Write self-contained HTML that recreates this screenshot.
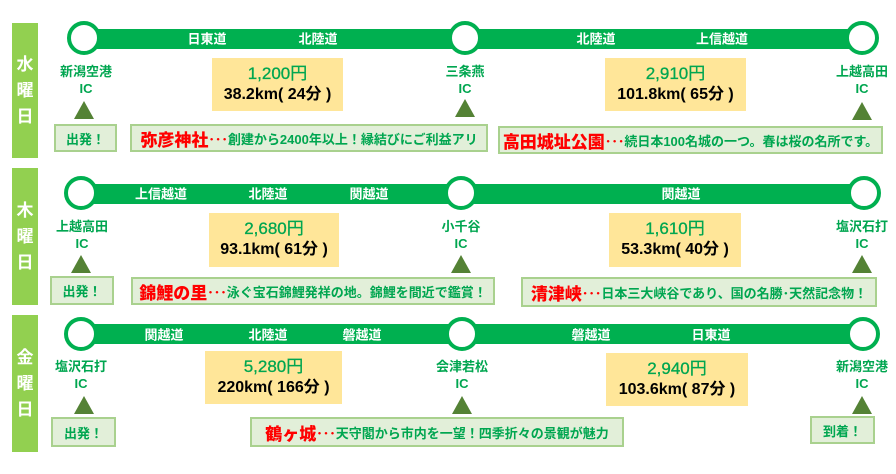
<!DOCTYPE html>
<html><head><meta charset="utf-8"><style>
*{margin:0;padding:0;box-sizing:border-box}
body{width:896px;height:474px;background:#fff;position:relative;overflow:hidden;font-family:"Liberation Sans","Noto Sans CJK JP",sans-serif;font-weight:bold}
.side{position:absolute;left:12px;width:26px;background:#92d050;color:#fff;font-size:17px;line-height:26px;text-align:center;display:flex;flex-direction:column;justify-content:center}
.bar{position:absolute;height:20px;background:#00b050}
.c{position:absolute;width:34px;height:34px;border:4px solid #00b050;border-radius:50%;background:#fff}
.rl{position:absolute;color:#fff;font-size:13px;transform:translate(-50%,-50%);white-space:nowrap}
.st{position:absolute;color:#00a650;font-size:13px;text-align:center;line-height:17px;transform:translateX(-50%);white-space:nowrap}
.pb{position:absolute;background:#ffe699;text-align:center}
.pb .p{color:#00a650;font-size:17px;font-weight:normal;line-height:20px;margin-top:6px;-webkit-text-stroke:0.3px #00a650}
.pb .k{color:#000;font-size:16px;line-height:22px;white-space:nowrap}
.tri{position:absolute;width:0;height:0;border-left:10px solid transparent;border-right:10px solid transparent;border-bottom:18px solid #548235;transform:translateX(-50%)}
.db{position:absolute;background:#e2efd9;border:2px solid #a9d18e;color:#00a650;font-size:13px;display:flex;align-items:center;justify-content:center;white-space:nowrap}
.db b{color:#ff0000;font-size:17px}
</style></head><body>

<!-- Row 1 -->
<div class="side" style="top:23px;height:135px">水<br>曜<br>日</div>
<div class="bar" style="left:84px;width:778px;top:29px"></div>
<div class="c" style="left:67px;top:21px"></div>
<div class="c" style="left:448px;top:21px"></div>
<div class="c" style="left:845px;top:21px"></div>
<div class="rl" style="left:207px;top:38px">日東道</div>
<div class="rl" style="left:318px;top:38px">北陸道</div>
<div class="rl" style="left:596px;top:38px">北陸道</div>
<div class="rl" style="left:722px;top:38px">上信越道</div>
<div class="st" style="left:86px;top:63px">新潟空港<br>IC</div>
<div class="st" style="left:465px;top:63px">三条燕<br>IC</div>
<div class="st" style="left:862px;top:63px">上越高田<br>IC</div>
<div class="pb" style="left:212px;top:58px;width:131px;height:53px"><div class="p">1,200円</div><div class="k">38.2km( 24分 )</div></div>
<div class="pb" style="left:605px;top:58px;width:141px;height:53px"><div class="p">2,910円</div><div class="k">101.8km( 65分 )</div></div>
<div class="tri" style="left:84px;top:101px"></div>
<div class="tri" style="left:465px;top:99px"></div>
<div class="tri" style="left:862px;top:102px"></div>
<div class="db" style="left:54px;top:124px;width:63px;height:28px">出発！</div>
<div class="db" style="left:130px;top:124px;width:358px;height:28px"><b>弥彦神社</b><span style="color:#ff0000">･･･</span>創建から2400年以上！縁結びにご利益アリ</div>
<div class="db" style="left:498px;top:126px;width:385px;height:28px"><b>高田城址公園</b><span style="color:#ff0000">･･･</span>続日本100名城の一つ。春は桜の名所です。</div>

<!-- Row 2 -->
<div class="side" style="top:168px;height:137px">木<br>曜<br>日</div>
<div class="bar" style="left:81px;width:783px;top:184px"></div>
<div class="c" style="left:64px;top:176px"></div>
<div class="c" style="left:444px;top:176px"></div>
<div class="c" style="left:847px;top:176px"></div>
<div class="rl" style="left:161px;top:193px">上信越道</div>
<div class="rl" style="left:268px;top:193px">北陸道</div>
<div class="rl" style="left:369px;top:193px">関越道</div>
<div class="rl" style="left:681px;top:193px">関越道</div>
<div class="st" style="left:82px;top:218px">上越高田<br>IC</div>
<div class="st" style="left:461px;top:218px">小千谷<br>IC</div>
<div class="st" style="left:862px;top:218px">塩沢石打<br>IC</div>
<div class="pb" style="left:209px;top:213px;width:130px;height:54px"><div class="p">2,680円</div><div class="k">93.1km( 61分 )</div></div>
<div class="pb" style="left:609px;top:213px;width:132px;height:54px"><div class="p">1,610円</div><div class="k">53.3km( 40分 )</div></div>
<div class="tri" style="left:81px;top:255px"></div>
<div class="tri" style="left:461px;top:255px"></div>
<div class="tri" style="left:862px;top:255px"></div>
<div class="db" style="left:50px;top:276px;width:64px;height:29px">出発！</div>
<div class="db" style="left:131px;top:277px;width:364px;height:28px"><b>錦鯉の里</b><span style="color:#ff0000">･･･</span>泳ぐ宝石錦鯉発祥の地。錦鯉を間近で鑑賞！</div>
<div class="db" style="left:521px;top:277px;width:356px;height:30px"><b>清津峡</b><span style="color:#ff0000">･･･</span>日本三大峡谷であり、国の名勝･天然記念物！</div>

<!-- Row 3 -->
<div class="side" style="top:315px;height:137px">金<br>曜<br>日</div>
<div class="bar" style="left:81px;width:782px;top:324px"></div>
<div class="c" style="left:64px;top:317px"></div>
<div class="c" style="left:445px;top:317px"></div>
<div class="c" style="left:846px;top:317px"></div>
<div class="rl" style="left:164px;top:334px">関越道</div>
<div class="rl" style="left:268px;top:334px">北陸道</div>
<div class="rl" style="left:362px;top:334px">磐越道</div>
<div class="rl" style="left:591px;top:334px">磐越道</div>
<div class="rl" style="left:711px;top:334px">日東道</div>
<div class="st" style="left:81px;top:358px">塩沢石打<br>IC</div>
<div class="st" style="left:462px;top:358px">会津若松<br>IC</div>
<div class="st" style="left:862px;top:358px">新潟空港<br>IC</div>
<div class="pb" style="left:205px;top:351px;width:137px;height:53px"><div class="p">5,280円</div><div class="k">220km( 166分 )</div></div>
<div class="pb" style="left:606px;top:353px;width:142px;height:53px"><div class="p">2,940円</div><div class="k">103.6km( 87分 )</div></div>
<div class="tri" style="left:84px;top:396px"></div>
<div class="tri" style="left:462px;top:396px"></div>
<div class="tri" style="left:862px;top:396px"></div>
<div class="db" style="left:51px;top:417px;width:65px;height:30px">出発！</div>
<div class="db" style="left:250px;top:417px;width:374px;height:30px"><b>鶴ヶ城</b><span style="color:#ff0000">･･･</span>天守閣から市内を一望！四季折々の景観が魅力</div>
<div class="db" style="left:810px;top:416px;width:65px;height:28px">到着！</div>
</body></html>
